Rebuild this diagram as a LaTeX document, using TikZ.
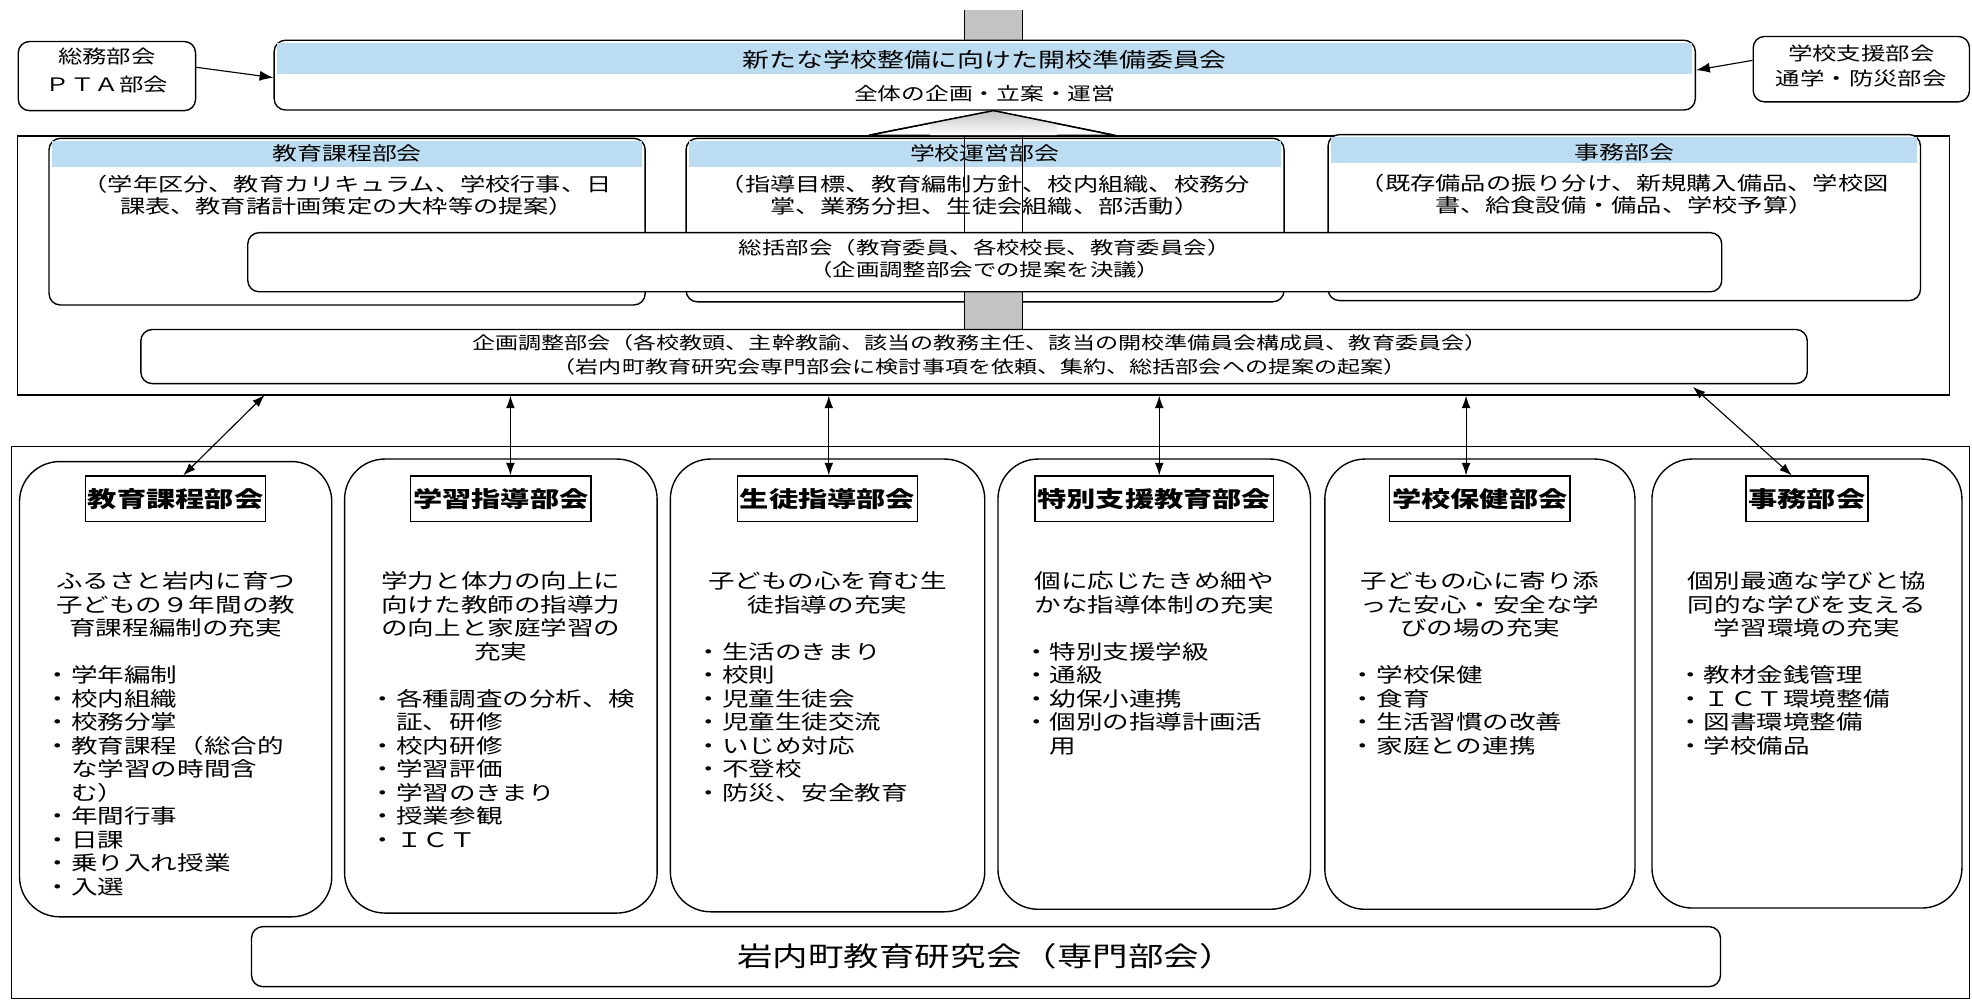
\documentclass[tikz,border=0pt]{standalone}
\usepackage{fontspec}
\setmainfont{Noto Sans CJK JP}[FakeStretch=1.32]
\usetikzlibrary{arrows.meta,calc}
\definecolor{band}{RGB}{188,221,241}
\definecolor{shaftgray}{RGB}{195,195,195}
\newcommand{\jfs}[2]{\fontsize{#1}{#2}\selectfont}
\begin{document}
\begin{tikzpicture}[x=1pt,y=-1pt,line width=1.1pt,
 rbox/.style={draw,rounded corners=9pt,fill=white,inner sep=0pt},
 sbox/.style={draw,inner sep=0pt},
 colbox/.style={draw,rounded corners=32pt,fill=white,inner sep=0pt},
 ttl/.style={draw,fill=white,font=\jfs{17.6}{20}\bfseries,inner xsep=2pt,inner ysep=0pt,minimum height=36pt},
 desc/.style={align=center,font=\jfs{16}{18.7},inner sep=0pt,anchor=north},
 blist/.style={align=left,font=\jfs{16}{18.7},inner sep=0pt,anchor=north west},
 txt/.style={inner sep=0pt},
 dbl/.style={{Latex[length=10pt,width=7pt]}-{Latex[length=10pt,width=7pt]},line width=0.9pt},
 sgl/.style={-{Latex[length=11pt,width=8pt]},line width=0.9pt}
]
\fill[white] (0,0) rectangle (1568,797);
\useasboundingbox (0,0) rectangle (1568,797);

% top stub of block arrow
\fill[shaftgray] (767,8) rectangle (813,32);
\draw (767,8) -- (767,32) (813,8) -- (813,32);

% main committee
\node[rbox,minimum width=1130pt,minimum height=55.5pt] (main) at (783,59.75) {};
\fill[band] ($(main.north west)+(3,3)$) rectangle ($(main.north east)+(-3,27)$);
\node[txt,font=\jfs{16.2}{19}] (mainT) at (783,47.7) {新たな学校整備に向けた開校準備委員会};
\node[txt,font=\jfs{14.3}{17}] (mainS) at (783,74.2) {全体の企画・立案・運営};

% side boxes
\node[rbox,minimum width=141pt,minimum height=55pt] (soumu) at (85,60.5) {};
\node[txt,font=\jfs{14.7}{18}] (soumu1) at (85,45) {総務部会};
\node[txt,font=\jfs{14.7}{18}] (soumu2) at (85,67) {ＰＴＡ部会};
\node[rbox,minimum width=172pt,minimum height=52pt] (shien) at (1480,55) {};
\node[txt,font=\jfs{14.7}{18}] (shien1) at (1480,42.4) {学校支援部会};
\node[txt,font=\jfs{14.7}{18}] (shien2) at (1480,62.3) {通学・防災部会};
\draw[sgl] ($(soumu.east)+(0,-7)$) -- ($(main.west)+(0,2)$);
\draw[sgl] ($(shien.west)+(0,-7)$) -- ($(main.east)+(0,-4)$);

% middle container
\node[sbox,minimum width=1536pt,minimum height=206pt] (mid) at (782,211) {};

% triangle head
\filldraw[fill=white] (691,107.5) -- (790,88) -- (886,107.5) -- cycle;
\begin{scope}
\clip (691,107.5) -- (790,88) -- (886,107.5) -- cycle;
\shade[top color=shaftgray,bottom color=white] (740,88) rectangle (840,107.5);
\end{scope}
\draw (691,107.5) -- (790,88) -- (886,107.5);

% upper department boxes
\node[rbox,minimum width=474pt,minimum height=132.5pt] (d1) at (276,176.25) {};
\node[rbox,minimum width=475.5pt,minimum height=130pt] (d2) at (783.25,175) {};
\node[rbox,minimum width=471pt,minimum height=132pt] (d3) at (1291.5,173) {};
\foreach \d in {d1,d2,d3}{
  \fill[band] ($(\d.north west)+(3,2.5)$) rectangle ($(\d.north east)+(-3,23)$);
}
% shaft
\fill[shaftgray] (767,232) rectangle (813,262);
\draw (767,107.5) -- (767,262) (813,107.5) -- (813,262);

\node[txt,font=\jfs{15}{18}] (d1t) at (276,122) {教育課程部会};
\node[txt,font=\jfs{15}{18}] (d2t) at (783,122) {学校運営部会};
\node[txt,font=\jfs{15}{18}] (d3t) at (1291.5,121) {事務部会};
\node[txt,align=center,anchor=north,font=\jfs{15.2}{17.5}] (d1d) at (276,138.6)
 {（学年区分、教育カリキュラム、学校行事、日\\課表、教育諸計画策定の大枠等の提案）};
\node[txt,align=center,anchor=north,font=\jfs{15.2}{17.5}] (d2d) at (783,138.6)
 {（指導目標、教育編制方針、校内組織、校務分\\掌、業務分担、生徒会組織、部活動）};
\node[txt,align=center,anchor=north,font=\jfs{15.2}{17.5}] (d3d) at (1291.5,137.6)
 {（既存備品の振り分け、新規購入備品、学校図\\書、給食設備・備品、学校予算）};

% general committee
\node[rbox,minimum width=1172pt,minimum height=47pt] (sokatsu) at (783,208.5) {};
\node[txt,font=\jfs{14.1}{17}] (sok1) at (783,197) {総括部会（教育委員、各校校長、教育委員会）};
\node[txt,font=\jfs{14.1}{17}] (sok2) at (783,214.7) {（企画調整部会での提案を決議）};

% planning committee
\node[rbox,minimum width=1325pt,minimum height=43pt] (kikaku) at (774.5,283.5) {};
\node[txt,font=\jfs{13.9}{17}] (kik1) at (779,273) {企画調整部会（各校教頭、主幹教諭、該当の教務主任、該当の開校準備員会構成員、教育委員会）};
\node[txt,font=\jfs{13.9}{17}] (kik2) at (779,291.6) {（岩内町教育研究会専門部会に検討事項を依頼、集約、総括部会への提案の起案）};

% bottom container
\node[sbox,minimum width=1557pt,minimum height=439pt] (bot) at (787.5,574.5) {};

% columns
\node[colbox,minimum width=248.3pt,minimum height=362pt] (c1) at (139.65,548) {};
\node[colbox,minimum width=248.5pt,minimum height=361pt] (c2) at (398.25,545.5) {};
\node[colbox,minimum width=250pt,minimum height=360pt] (c3) at (658,545) {};
\node[colbox,minimum width=248.5pt,minimum height=358pt] (c4) at (917.75,544) {};
\node[colbox,minimum width=246.6pt,minimum height=358pt] (c5) at (1176.7,544) {};
\node[colbox,minimum width=246.5pt,minimum height=357pt] (c6) at (1436.75,543.5) {};

\node[ttl] (t1) at (c1.center |- 0,396.6) {教育課程部会};
\node[ttl] (t2) at (c2.center |- 0,396.6) {学習指導部会};
\node[ttl] (t3) at (c3.center |- 0,396.6) {生徒指導部会};
\node[ttl] (t4) at (c4.center |- 0,396.6) {特別支援教育部会};
\node[ttl] (t5) at (c5.center |- 0,396.6) {学校保健部会};
\node[ttl] (t6) at (c6.center |- 0,396.6) {事務部会};

\node[desc] (e1) at (c1.center |- 0,454) {ふるさと岩内に育つ\\子どもの９年間の教\\育課程編制の充実};
\node[blist] (b1) at ($(c1.west |- 0,528.8)+(20,0)$) {・学年編制\\・校内組織\\・校務分掌\\・教育課程（総合的\\　な学習の時間含\\　む）\\・年間行事\\・日課\\・乗り入れ授業\\・入選};
\node[desc] (e2) at (c2.center |- 0,454) {学力と体力の向上に\\向けた教師の指導力\\の向上と家庭学習の\\充実};
\node[blist] (b2) at ($(c2.west |- 0,547.5)+(20,0)$) {・各種調査の分析、検\\　証、研修\\・校内研修\\・学習評価\\・学習のきまり\\・授業参観\\・ＩＣＴ};
\node[desc] (e3) at (c3.center |- 0,454) {子どもの心を育む生\\徒指導の充実};
\node[blist] (b3) at ($(c3.west |- 0,510)+(20,0)$) {・生活のきまり\\・校則\\・児童生徒会\\・児童生徒交流\\・いじめ対応\\・不登校\\・防災、安全教育};
\node[desc] (e4) at (c4.center |- 0,454) {個に応じたきめ細や\\かな指導体制の充実};
\node[blist] (b4) at ($(c4.west |- 0,510)+(20,0)$) {・特別支援学級\\・通級\\・幼保小連携\\・個別の指導計画活\\　用};
\node[desc] (e5) at (c5.center |- 0,454) {子どもの心に寄り添\\った安心・安全な学\\びの場の充実};
\node[blist] (b5) at ($(c5.west |- 0,528.8)+(20,0)$) {・学校保健\\・食育\\・生活習慣の改善\\・家庭との連携};
\node[desc] (e6) at (c6.center |- 0,454) {個別最適な学びと協\\同的な学びを支える\\学習環境の充実};
\node[blist] (b6) at ($(c6.west |- 0,528.8)+(20,0)$) {・教材金銭管理\\・ＩＣＴ環境整備\\・図書環境整備\\・学校備品};

% research society
\node[rbox,minimum width=1168pt,minimum height=47.7pt] (kenkyu) at (784,760.65) {};
\node[txt,font=\jfs{21.4}{24}] (kenkyuT) at (784,760.65) {岩内町教育研究会（専門部会）};

% connectors
\coordinate (p1) at (210.5,314);
\coordinate (p6) at (1346,307.5);
\coordinate (a2) at ($(t2.north)+(7.6,0)$);
\coordinate (a3) at ($(t3.north)+(1,0)$);
\coordinate (a4) at ($(t4.north)+(4,0)$);
\coordinate (a5) at ($(t5.north)+(-11,0)$);
\draw[dbl] (p1) -- ($(t1.north)+(6,0)$);
\draw[dbl] (a2 |- mid.south) -- (a2);
\draw[dbl] (a3 |- mid.south) -- (a3);
\draw[dbl] (a4 |- mid.south) -- (a4);
\draw[dbl] (a5 |- mid.south) -- (a5);
\draw[dbl] (p6) -- ($(t6.north)+(-12,0)$);
\end{tikzpicture}
\end{document}
